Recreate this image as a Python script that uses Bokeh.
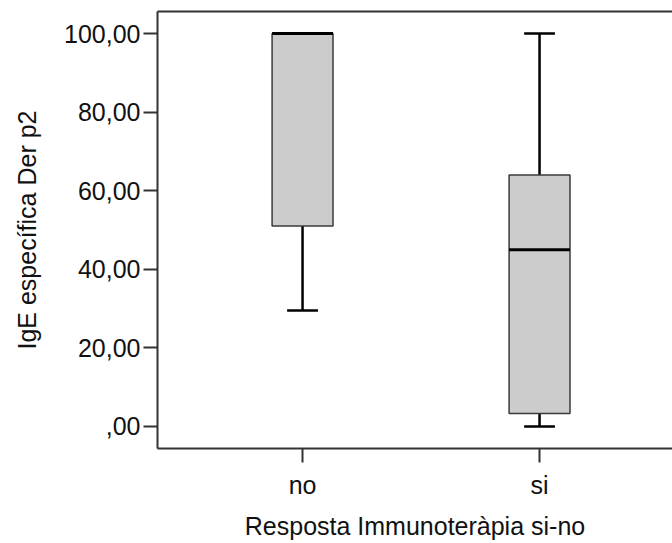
from bokeh.plotting import figure
from bokeh.models import Range1d, FixedTicker, LinearAxis, ColumnDataSource
from bokeh.embed import file_html
from bokeh.resources import INLINE

# ---- data ----
categories = ["no", "si"]
q1 = [51.0, 3.3]
median = [100.0, 45.0]
q3 = [100.0, 64.0]
whisker_low = [29.5, 0.0]
whisker_high = [100.0, 100.0]
y_ticks = [0, 20, 40, 60, 80, 100]
y_tick_labels = [",00", "20,00", "40,00", "60,00", "80,00", "100,00"]
x_title = "Resposta Immunoteràpia si-no"
y_title = "IgE específica Der p2"

FONT = "Liberation Sans"
AX = "#333333"

xs = [i + 1 for i in range(len(categories))]
box_w = 0.257
cap_w = 0.13

src = ColumnDataSource(dict(
    x=xs, q1=q1, med=median, q3=q3, lo=whisker_low, hi=whisker_high,
    cl=[x - cap_w / 2 for x in xs], cr=[x + cap_w / 2 for x in xs],
    bl=[x - box_w / 2 for x in xs], br=[x + box_w / 2 for x in xs],
))

p = figure(width=672, height=543, output_backend="svg", toolbar_location=None,
           x_range=Range1d(0.388, 2.561), y_range=Range1d(-5.6, 105.6),
           min_border_left=157, min_border_right=0, min_border_top=11,
           min_border_bottom=95)
p.outline_line_color = None
p.grid.visible = False
p.background_fill_color = "white"
p.border_fill_color = "white"

# whiskers
p.segment(x0="x", y0="q3", x1="x", y1="hi", source=src, line_color="black", line_width=2.5)
p.segment(x0="x", y0="q1", x1="x", y1="lo", source=src, line_color="black", line_width=2.5)
p.segment(x0="cl", y0="hi", x1="cr", y1="hi", source=src, line_color="black", line_width=2.5)
p.segment(x0="cl", y0="lo", x1="cr", y1="lo", source=src, line_color="black", line_width=2.5)
# boxes
p.vbar(x="x", width=box_w, bottom="q1", top="q3", source=src,
       fill_color="#cccccc", line_color="#3a3a3a", line_width=1.5)
# medians
p.segment(x0="bl", y0="med", x1="br", y1="med", source=src, line_color="black", line_width=3)

# axes
for ax in (p.xaxis[0], p.yaxis[0]):
    ax.axis_line_color = AX
    ax.axis_line_width = 2
    ax.major_tick_line_color = AX
    ax.major_tick_line_width = 2
    ax.major_tick_out = 14
    ax.major_tick_in = 0
    ax.minor_tick_line_color = None
    ax.major_label_text_font = FONT
    ax.major_label_text_color = "#111111"
    ax.axis_label_text_font = FONT
    ax.axis_label_text_font_size = "25px"
    ax.axis_label_text_font_style = "normal"
    ax.axis_label_text_color = "#111111"

p.yaxis.ticker = FixedTicker(ticks=y_ticks)
p.yaxis.major_label_overrides = {t: l for t, l in zip(y_ticks, y_tick_labels)}
p.yaxis.major_label_text_font_size = "25px"
p.yaxis.major_label_standoff = 3
p.yaxis.axis_label = y_title
p.yaxis.axis_label_standoff = 20

p.xaxis.ticker = FixedTicker(ticks=xs)
p.xaxis.major_label_overrides = {x: c for x, c in zip(xs, categories)}
p.xaxis.major_label_text_font_size = "25px"
p.xaxis.major_label_standoff = 8
p.xaxis.axis_label = x_title
p.xaxis.axis_label_standoff = 10

top = LinearAxis(ticker=FixedTicker(ticks=[]), axis_line_color=AX, axis_line_width=2,
                 major_tick_out=0, major_tick_in=0, minor_tick_out=0, minor_tick_in=0,
                 major_label_text_font_size="0px", major_label_standoff=0)
p.add_layout(top, "above")

open("out.html", "w").write(file_html(p, INLINE))
